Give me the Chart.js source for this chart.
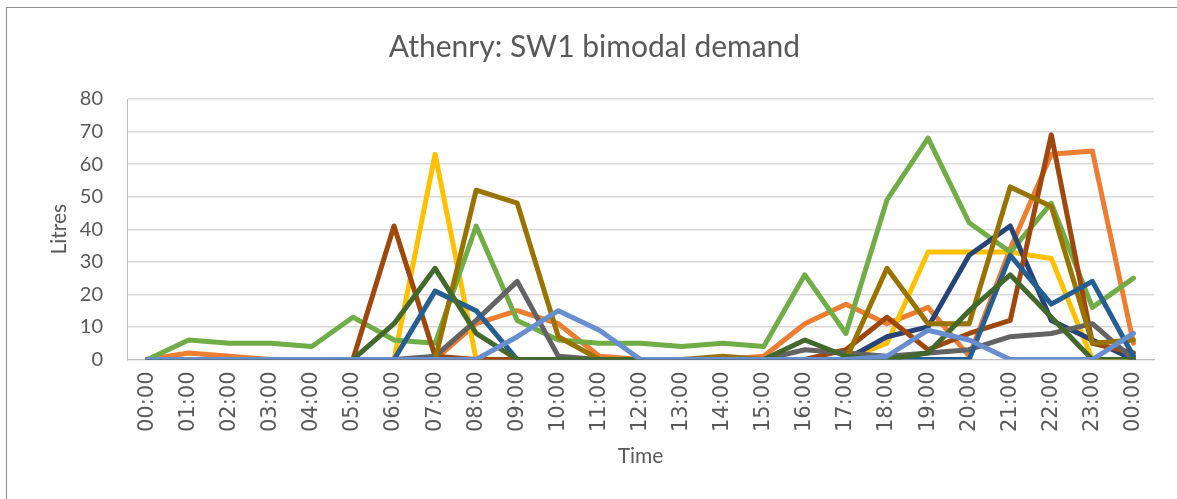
<!DOCTYPE html>
<html lang="en">
<head>
  <meta charset="UTF-8">
  <title>Athenry: SW1 bimodal demand</title>
  <script src="https://cdn.jsdelivr.net/npm/chart.js@4.4.0/dist/chart.umd.min.js"></script>
  <style>
    html, body { margin: 0; padding: 0; background: #fff; }
    #wrap { position: relative; width: 1177px; height: 499px; overflow: hidden; }
    #frame { position: absolute; left: 6px; top: 7px; width: 1200px; height: 530px; border: 1px solid #8c8c8c; box-sizing: border-box; }
    canvas { position: absolute; left: 0; top: 0; }
  </style>
</head>
<body>
  <div id="wrap">
    <div id="frame"></div>
    <canvas id="myChart" width="1177" height="499"></canvas>
  </div>
  <script>
    const hours = ['00:00', '01:00', '02:00', '03:00', '04:00', '05:00', '06:00', '07:00', '08:00', '09:00',
      '10:00', '11:00', '12:00', '13:00', '14:00', '15:00', '16:00', '17:00', '18:00', '19:00',
      '20:00', '21:00', '22:00', '23:00', '00:00']

    // one array per household
    const orange    = [0, 2, 1, 0, 0, 0, 0, 0, 11, 15, 11, 1, 0, 0, 0, 1, 11, 17, 11, 16, 1, 34, 63, 64, 5]
    const gold      = [0, 0, 0, 0, 0, 0, 0, 63, 0, 0, 0, 0, 0, 0, 0, 0, 0, 0, 5, 33, 33, 33, 31, 0, 0]
    const green     = [0, 6, 5, 5, 4, 13, 6, 5, 41, 12, 6, 5, 5, 4, 5, 4, 26, 8, 49, 68, 42, 33, 48, 16, 25]
    const darkBlue  = [0, 0, 0, 0, 0, 0, 0, 0, 0, 0, 0, 0, 0, 0, 0, 0, 0, 0, 7, 10, 32, 41, 12, 6, 0]
    const brown     = [0, 0, 0, 0, 0, 0, 41, 1, 0, 0, 0, 0, 0, 0, 0, 0, 0, 3, 13, 3, 8, 12, 69, 5, 2]
    const grey      = [0, 0, 0, 0, 0, 0, 0, 1, 12, 24, 1, 0, 0, 0, 0, 0, 3, 2, 1, 2, 3, 7, 8, 11, 0]
    const olive     = [0, 0, 0, 0, 0, 0, 0, 0, 52, 48, 7, 0, 0, 0, 1, 0, 0, 0, 28, 11, 11, 53, 47, 5, 6]
    const blue      = [0, 0, 0, 0, 0, 0, 0, 21, 15, 0, 0, 0, 0, 0, 0, 0, 0, 0, 0, 0, 0, 32, 17, 24, 1]
    const darkGreen = [0, 0, 0, 0, 0, 0, 11, 28, 8, 0, 0, 0, 0, 0, 0, 0, 6, 1, 0, 2, 15, 26, 13, 0, 0]
    const lightBlue = [0, 0, 0, 0, 0, 0, 0, 0, 0, 7, 15, 9, 0, 0, 0, 0, 0, 0, 1, 9, 6, 0, 0, 0, 8]

    const series = [
      { data: orange, color: '#ED7D31' },
      { data: gold, color: '#FFC000' },
      { data: green, color: '#70AD47' },
      { data: darkBlue, color: '#264478' },
      { data: brown, color: '#9E480E' },
      { data: grey, color: '#636363' },
      { data: olive, color: '#997300' },
      { data: blue, color: '#255E91' },
      { data: darkGreen, color: '#43682B' },
      { data: lightBlue, color: '#698ED0' }
    ]

    const textColor = '#595959'

    const datasets = series.map((s, i) => ({
      data: s.data,
      borderColor: s.color,
      backgroundColor: s.color,
      borderWidth: 5,
      borderJoinStyle: 'round',
      borderCapStyle: 'round',
      pointRadius: 0,
      tension: 0,
      fill: false,
      // later series sit on top, like the spreadsheet
      order: series.length - i
    }))

    const ctx = document.getElementById('myChart').getContext('2d')
    new Chart(ctx, {
      type: 'line',
      data: { labels: hours, datasets: datasets },
      options: {
        responsive: false,
        animation: false,
        // left padding only there to push the title's centre right
        layout: { padding: { left: 35, right: 23, top: 0, bottom: 0 } },
        plugins: {
          legend: { display: false },
          tooltip: { enabled: false },
          title: {
            display: true,
            text: 'Athenry: SW1 bimodal demand',
            color: textColor,
            font: { family: 'Lato', size: 30, weight: 'normal' },
            padding: { top: 29, bottom: 34 }
          }
        },
        scales: {
          x: {
            offset: true,
            grid: { display: false, drawTicks: false },
            border: { display: true, color: '#bfbfbf', width: 1 },
            ticks: {
              color: textColor,
              font: { family: 'DejaVu Sans', size: 21 },
              minRotation: 90,
              maxRotation: 90,
              autoSkip: false,
              padding: 12
            },
            title: {
              display: true,
              text: 'Time',
              color: textColor,
              font: { family: 'Lato', size: 21 },
              padding: { top: 0, bottom: 30 }
            },
            afterFit: function(scale) { scale.height = 139.5 }
          },
          y: {
            min: 0,
            max: 80,
            grid: { color: '#d9d9d9', lineWidth: 1.5, drawTicks: false },
            border: { display: true, color: '#bfbfbf', width: 1 },
            ticks: {
              stepSize: 10,
              color: textColor,
              font: { family: 'Lato', size: 20 },
              padding: 24
            },
            title: {
              display: true,
              text: 'Litres',
              color: textColor,
              font: { family: 'Lato', size: 21 },
              padding: { top: 12, bottom: 0 }
            },
            afterFit: function(scale) { scale.width = 92 }
          }
        }
      }
    })
  </script>
</body>
</html>
